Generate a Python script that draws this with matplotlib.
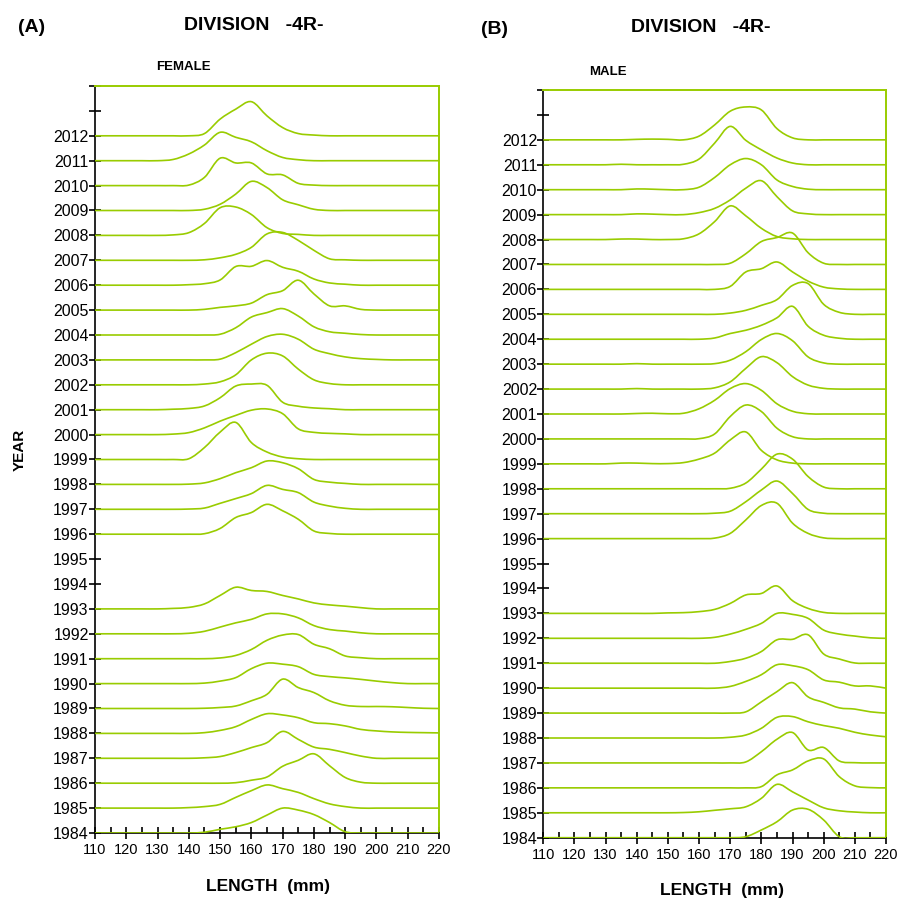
import numpy as np
import matplotlib
matplotlib.use("Agg")
import matplotlib.pyplot as plt
from matplotlib.path import Path
from matplotlib.patches import PathPatch
from matplotlib.ticker import MultipleLocator

plt.rcParams['font.family'] = ['Liberation Sans', 'DejaVu Sans']

# length classes (mm)
lengths = [110, 115, 120, 125, 130, 135, 140, 145, 150, 155, 160, 165,
           170, 175, 180, 185, 190, 195, 200, 205, 210, 215, 220]

# relative frequency per length class, one row per year (no samples 1994-1995)
female_years = [2012, 2011, 2010, 2009, 2008, 2007, 2006, 2005, 2004, 2003,
                2002, 2001, 2000, 1999, 1998, 1997, 1996,
                1993, 1992, 1991, 1990, 1989, 1988, 1987, 1986, 1985, 1984]
female_freq = [
    [0, 0, 0, 0, 0, 0,   0,   .09, .67, 1.07, 1.37, .80, .33, .09, .03, 0,   0,   0,   0,   0,   0,   0,   0],
    [0, 0, 0, 0, 0, .05, .27, .63, 1.14, .94, .76, .40, .13, .04, 0,   0,   0,   0,   0,   0,   0,   0,   0],
    [0, 0, 0, 0, 0, 0,   .02, .33, 1.10, .91, .91, .47, .43, .09, .02, 0,   0,   0,   0,   0,   0,   0,   0],
    [0, 0, 0, 0, 0, 0,   0,   .05, .25, .66, 1.17, .92, .43, .23, .05, 0,   0,   0,   0,   0,   0,   0,   0],
    [0, 0, 0, 0, 0, .02, .11, .48, 1.11, 1.14, .84, .31, .08, .04, 0,   0,   0,   0,   0,   0,   0,   0,   0],
    [0, 0, 0, 0, 0, 0,   0,   .02, .10, .24, .52, 1.06, 1.12, .80, .40, .06, .02, 0,   0,   0,   0,   0,   0],
    [0, 0, 0, 0, 0, 0,   .02, .06, .21, .75, .76, .99, .72, .56, .25, .09, .04, 0,   0,   0,   0,   0,   0],
    [0, 0, 0, 0, 0, 0,   0,   .03, .11, .17, .28, .62, .78, 1.20, .65, .17, .17, .03, 0,   0,   0,   0,   0],
    [0, 0, 0, 0, 0, 0,   0,   0,   .03, .29, .72, .90, 1.06, .76, .33, .13, .07, .02, 0,   0,   0,   0,   0],
    [0, 0, 0, 0, 0, 0,   0,   0,   .03, .29, .63, .94, 1.03, .83, .43, .25, .12, .05, .02, 0,   0,   0,   0],
    [0, 0, 0, 0, 0, 0,   0,   .03, .12, .40, 1.00, 1.27, 1.16, .63, .20, .05, 0,   0,   0,   0,   0,   0,   0],
    [0, 0, 0, 0, 0, .02, .05, .15, .48, .95, 1.03, .98, .30, .14, .07, .04, 0,   0,   0,   0,   0,   0,   0],
    [0, 0, 0, 0, 0, .02, .08, .27, .54, .77, .98, 1.03, .84, .23, .09, .05, .03, 0,   0,   0,   0,   0,   0],
    [0, 0, 0, 0, 0, 0,   .03, .48, 1.10, 1.49, .68, .30, .10, .03, 0,   0,   0,   0,   0,   0,   0,   0,   0],
    [0, 0, 0, 0, 0, 0,   .01, .06, .23, .47, .67, .94, .87, .63, .20, .09, .04, 0,   0,   0,   0,   0,   0],
    [0, 0, 0, 0, 0, 0,   .01, .05, .24, .43, .63, .96, .80, .67, .29, .13, .04, 0,   0,   0,   0,   0,   0],
    [0, 0, 0, 0, 0, 0,   0,   .02, .23, .67, .87, 1.20, .94, .60, .13, .03, 0,   0,   0,   0,   0,   0,   0],
    [0, 0, 0, 0, 0, .02, .06, .20, .54, .87, .74, .70, .54, .40, .24, .16, .11, .05, 0,   0,   0,   0,   0],
    [0, 0, 0, 0, 0, 0,   .02, .10, .27, .44, .58, .80, .80, .64, .33, .17, .11, .04, 0,   0,   0,   0,   0],
    [0, 0, 0, 0, 0, 0,   0,   0,   .03, .13, .37, .74, .95, .97, .58, .40, .11, .04, 0,   0,   0,   0,   0],
    [0, 0, 0, 0, 0, 0,   0,   .02, .10, .24, .60, .82, .78, .68, .37, .28, .23, .17, .10, .04, 0,   0,   0],
    [0, 0, 0, 0, 0, 0,   0,   .01, .04, .10, .31, .57, 1.18, .84, .64, .31, .13, .08, .08, .07, .04, .01, 0],
    [0, 0, 0, 0, 0, 0,   0,   .03, .12, .27, .56, .79, .74, .63, .43, .39, .30, .16, .10, .06, .04, .03, .02],
    [0, 0, 0, 0, 0, 0,   0,   .02, .07, .23, .43, .63, 1.08, .76, .45, .36, .23, .09, 0,   0,   0,   0,   0],
    [0, 0, 0, 0, 0, 0,   0,   0,   0,   .02, .12, .25, .68, .92, 1.18, .70, .23, .04, 0,   0,   0,   0,   0],
    [0, 0, 0, 0, 0, 0,   .02, .06, .15, .43, .70, .93, .78, .63, .38, .17, .06, 0,   0,   0,   0,   0,   0],
    [0, 0, 0, 0, 0, 0,   0,   .03, .15, .25, .42, .72, 1.00, .92, .74, .42, .05, 0,   0,   0,   0,   0,   0],
]

male_years = female_years
male_freq = [
    [0, 0, 0, 0, 0, 0,   .02, .03, .02, 0,   .15, .60, 1.15, 1.32, 1.20, .45, .08, 0,   0,   0,   0,   0,   0],
    [0, 0, 0, 0, 0, .02, 0,   0,   0,   .02, .23, .87, 1.54, .98, .60, .27, .07, 0,   0,   0,   0,   0,   0],
    [0, 0, 0, 0, 0, 0,   .03, .02, 0,   0,   .10, .49, 1.00, 1.25, 1.00, .39, .13, .02, 0,   0,   0,   0,   0],
    [0, 0, 0, 0, 0, 0,   .03, .02, 0,   0,   .08, .25, .59, 1.06, 1.36, .72, .15, .03, 0,   0,   0,   0,   0],
    [0, 0, 0, 0, 0, .02, .02, 0,   0,   .03, .23, .72, 1.35, .95, .45, .12, .03, 0,   0,   0,   0,   0,   0],
    [0, 0, 0, 0, 0, 0,   0,   0,   0,   0,   0,   0,   .05, .43, .92, 1.08, 1.26, .47, .05, 0,   0,   0,   0],
    [0, 0, 0, 0, 0, 0,   0,   0,   0,   0,   0,   0,   .12, .70, .83, 1.10, .70, .33, .09, .02, 0,   0,   0],
    [0, 0, 0, 0, 0, 0,   0,   0,   0,   0,   0,   0,   .05, .16, .36, .59, 1.16, 1.23, .40, .08, 0,   0,   0],
    [0, 0, 0, 0, 0, 0,   0,   0,   0,   0,   0,   .05, .23, .36, .56, .86, 1.32, .52, .16, .04, 0,   0,   0],
    [0, 0, 0, 0, 0, 0,   .02, 0,   0,   0,   0,   .02, .16, .50, .99, 1.23, .94, .29, .05, 0,   0,   0,   0],
    [0, 0, 0, 0, 0, 0,   .02, 0,   0,   0,   0,   .05, .29, .83, 1.30, 1.06, .50, .16, .03, 0,   0,   0,   0],
    [0, 0, 0, 0, 0, 0,   .02, .03, .01, .03, .21, .55, 1.02, 1.22, .95, .41, .11, .01, 0,   0,   0,   0,   0],
    [0, 0, 0, 0, 0, 0,   0,   0,   0,   0,   .01, .20, .90, 1.36, 1.10, .43, .09, 0,   0,   0,   0,   0,   0],
    [0, 0, 0, 0, 0, .03, .03, .01, .01, .05, .19, .43, .96, 1.28, .54, .16, .03, 0,   0,   0,   0,   0,   0],
    [0, 0, 0, 0, 0, 0,   0,   0,   0,   0,   0,   0,   .02, .23, .79, 1.39, 1.19, .49, .07, 0,   0,   0,   0],
    [0, 0, 0, 0, 0, 0,   0,   0,   0,   0,   0,   .02, .10, .48, .95, 1.31, .81, .17, .02, 0,   0,   0,   0],
    [0, 0, 0, 0, 0, 0,   0,   0,   0,   0,   0,   .02, .21, .75, 1.33, 1.42, .62, .21, .03, 0,   0,   0,   0],
    [0, 0, 0, 0, 0, 0,   0,   0,   .02, .03, .07, .16, .40, .74, .80, 1.10, .51, .20, .04, 0,   0,   0,   0],
    [0, 0, 0, 0, 0, 0,   0,   0,   0,   0,   0,   .04, .17, .36, .60, 1.00, .96, .80, .33, .17, .09, .02, 0],
    [0, 0, 0, 0, 0, 0,   0,   0,   0,   0,   0,   0,   .07, .20, .47, .94, .96, 1.14, .37, .17, .01, 0,   0],
    [0, 0, 0, 0, 0, 0,   0,   0,   0,   0,   0,   0,   .07, .27, .54, .94, .90, .74, .33, .24, .09, .09, 0],
    [0, 0, 0, 0, 0, 0,   0,   0,   0,   0,   0,   0,   0,   .05, .45, .86, 1.22, .65, .43, .21, .16, .05, 0],
    [0, 0, 0, 0, 0, 0,   0,   0,   0,   0,   0,   0,   .03, .12, .39, .83, .86, .65, .50, .39, .23, .12, .05],
    [0, 0, 0, 0, 0, 0,   0,   0,   0,   0,   0,   0,   0,   .04, .45, .95, 1.22, .52, .62, .08, .01, 0,   0],
    [0, 0, 0, 0, 0, 0,   0,   0,   0,   0,   0,   0,   0,   0,   .05, .52, .72, 1.08, 1.16, .45, .08, .01, 0],
    [0, 0, 0, 0, 0, 0,   0,   0,   0,   .01, .04, .10, .16, .24, .58, 1.14, .84, .51, .20, .08, .03, 0,   0],
    [0, 0, 0, 0, 0, 0,   0,   0,   0,   0,   0,   0,   0,   .04, .31, .64, 1.11, 1.14, .71, .04, 0,   0,   0],
]

year_ticks = list(range(1984, 2015))
line_col = '#99cc00'


def smooth_path(x, y):
    # Catmull-Rom spline through the points, written as cubic Bezier segments
    pts = np.column_stack([x, y])
    ext = np.vstack([pts[0], pts, pts[-1]])
    verts = [pts[0]]
    codes = [Path.MOVETO]
    for i in range(1, len(ext) - 2):
        p0, p1, p2, p3 = ext[i - 1], ext[i], ext[i + 1], ext[i + 2]
        verts += [p1 + (p2 - p0) / 6.0, p2 - (p3 - p1) / 6.0, p2]
        codes += [Path.CURVE4] * 3
    return Path(verts, codes)


def ridge_panel(ax, years, freq):
    x = np.array(lengths, dtype=float)
    for yr, row in zip(years, freq):
        y = yr + np.array(row, dtype=float)
        ax.add_patch(PathPatch(smooth_path(x, y), fill=False, edgecolor=line_col,
                               lw=1.2, zorder=3))
    ax.set_xlim(110, 220)
    ax.set_ylim(1984, 2014)
    ax.xaxis.set_major_locator(MultipleLocator(10))
    ax.xaxis.set_minor_locator(MultipleLocator(5))
    ax.set_yticks(year_ticks)
    ax.set_yticklabels([str(t) if t <= 2012 else '' for t in year_ticks])
    ax.tick_params(axis='y', direction='inout', length=8, width=1.2, pad=0.5,
                   labelsize=11.5, colors='black')
    ax.tick_params(axis='x', which='major', direction='inout', length=8, width=1.2,
                   pad=3.5, labelsize=10.5)
    ax.tick_params(axis='x', which='minor', direction='in', length=4, width=1.2)
    for side in ('top', 'right'):
        ax.spines[side].set_color(line_col)
        ax.spines[side].set_linewidth(1.4)
    for side in ('left', 'bottom'):
        ax.spines[side].set_color('black')
        ax.spines[side].set_linewidth(1.2)


W = 901.0
fig = plt.figure(figsize=(9.01, 9.01), dpi=100)

axA = fig.add_axes([95 / W, 1 - 833 / W, (439 - 95) / W, (833 - 86) / W])
axB = fig.add_axes([543.3 / W, 1 - 837.7 / W, (886 - 543.3) / W, (837.7 - 90) / W])
ridge_panel(axA, female_years, female_freq)
ridge_panel(axB, male_years, male_freq)


def ftext(px, py, s, **kw):
    fig.text(px / W, 1 - py / W, s, ha='center', va='center', fontweight='bold', **kw)


ftext(32, 28, '(A)', fontsize=14)
ftext(254, 25, 'DIVISION   -4R-', fontsize=14)
ftext(183, 67, 'FEMALE', fontsize=9.5)
ftext(20, 450, 'YEAR', fontsize=11, rotation=90)
ftext(268, 887, 'LENGTH  (mm)', fontsize=12.5)

ftext(495, 30, '(B)', fontsize=14)
ftext(701, 27, 'DIVISION   -4R-', fontsize=14)
ftext(608, 72, 'MALE', fontsize=9.5)
ftext(722, 890, 'LENGTH  (mm)', fontsize=12.5)

fig.savefig('out.png', dpi=100, facecolor='white')
